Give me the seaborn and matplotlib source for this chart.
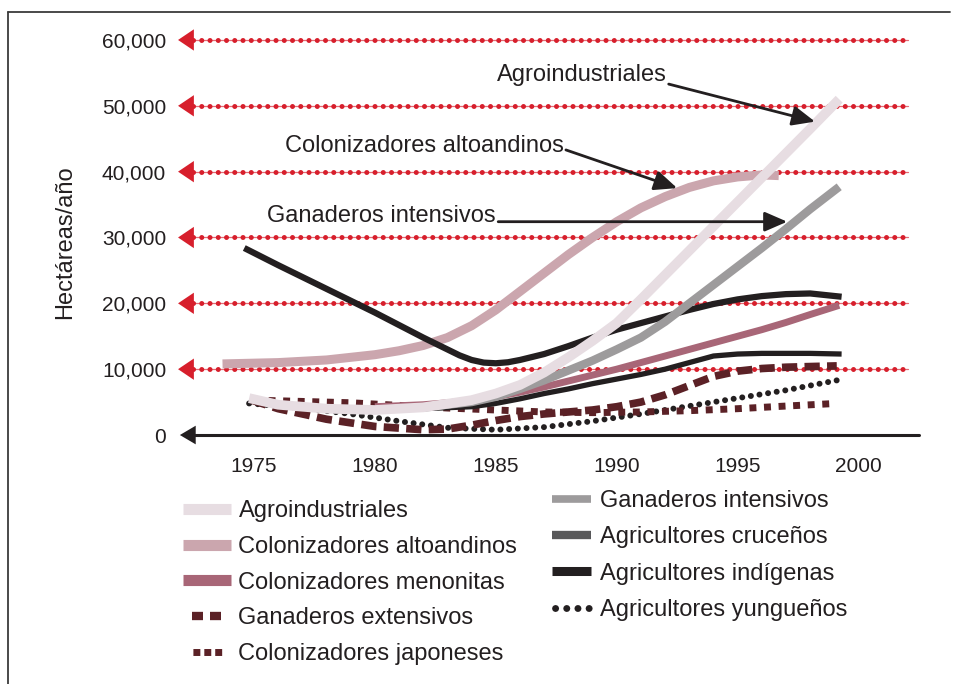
import numpy as np
import pandas as pd
import matplotlib
matplotlib.use("Agg")
import matplotlib.pyplot as plt
from matplotlib.lines import Line2D
import seaborn as sns

sns.set_theme(style="white")
plt.rcParams['font.family'] = ['Liberation Sans', 'DejaVu Sans']

# ---------------- data (hectáreas/año) ----------------
agro_years = [1974.8, 1976, 1978, 1980, 1982, 1984, 1985, 1986, 1987, 1988, 1989, 1990,
              1991, 1992, 1993, 1994, 1995, 1996, 1997, 1998, 1999.2]
agro_vals = [5600, 4600, 4000, 3800, 4200, 5300, 6300, 7600, 9500, 11800, 14300, 17000,
             20600, 24300, 28000, 31700, 35400, 39100, 42800, 46500, 51000]

alto_years = [1973.7, 1976, 1978, 1980, 1981, 1982, 1983, 1984, 1985, 1986, 1987, 1988,
              1989, 1990, 1991, 1992, 1993, 1994, 1995, 1996, 1996.7]
alto_vals = [10800, 11000, 11400, 12200, 12800, 13600, 14800, 16600, 19000, 21800, 24600,
             27400, 30000, 32400, 34500, 36200, 37600, 38600, 39200, 39500, 39400]

meno_years = [1980, 1982, 1984, 1985, 1986, 1987, 1988, 1989, 1990, 1991, 1992, 1993,
              1994, 1995, 1996, 1997, 1998, 1999.2]
meno_vals = [4300, 4600, 5200, 5800, 6500, 7300, 8200, 9100, 10000, 11000, 12000, 13000,
             14000, 15000, 16000, 17100, 18300, 19700]

ext_years = [1974.9, 1976, 1978, 1980, 1982, 1983, 1984, 1985, 1986, 1987, 1988, 1989,
             1990, 1991, 1992, 1993, 1994, 1995, 1996, 1997, 1998, 1999.1]
ext_vals = [5300, 4000, 2400, 1300, 800, 900, 1500, 2200, 2800, 3200, 3500, 3800,
            4300, 5000, 6100, 7500, 8900, 9700, 10100, 10300, 10400, 10500]

jap_years = [1975, 1977, 1979, 1981, 1983, 1985, 1987, 1989, 1991, 1993, 1995, 1997, 1999.1]
jap_vals = [5300, 5100, 4900, 4500, 4100, 3800, 3500, 3400, 3500, 3700, 4000, 4400, 4800]

int_years = [1982, 1984, 1985, 1986, 1987, 1988, 1989, 1990, 1991, 1992, 1993, 1994,
             1995, 1996, 1997, 1998, 1999.2]
int_vals = [4200, 5000, 5800, 7000, 8300, 9800, 11300, 13000, 14800, 17200, 20000, 22800,
            25600, 28400, 31300, 34300, 37700]

cru_years = [1982, 1984, 1985, 1986, 1987, 1988, 1989, 1990, 1991, 1992, 1993, 1994,
             1995, 1996, 1997, 1998, 1999.3]
cru_vals = [4000, 4300, 4800, 5500, 6300, 7000, 7800, 8500, 9200, 10000, 11000, 12000,
            12300, 12400, 12400, 12400, 12300]

ind_years = [1974.6, 1976, 1978, 1980, 1982, 1983, 1983.5, 1984, 1984.5, 1985, 1985.5,
             1986, 1987, 1988, 1989, 1990, 1991, 1992, 1993, 1994, 1995, 1996, 1997,
             1998, 1999.3]
ind_vals = [28400, 25800, 22200, 18600, 14800, 13000, 12100, 11400, 11000, 10900, 11050,
            11400, 12300, 13500, 14800, 16000, 17000, 18000, 19000, 19900, 20600, 21100,
            21400, 21500, 21000]

yun_years = [1974.8, 1977, 1979, 1981, 1983, 1985, 1987, 1989, 1991, 1993, 1995, 1997, 1999.1]
yun_vals = [4800, 4100, 3200, 2100, 1100, 800, 1200, 2100, 3200, 4400, 5600, 6800, 8300]

x_ticks = [1975, 1980, 1985, 1990, 1995, 2000]
y_ticks = [0, 10000, 20000, 30000, 40000, 50000, 60000]
y_ticklabels = ["0", "10,000", "20,000", "30,000", "40,000", "50,000", "60,000"]

# ---------------- styles ----------------
RED = '#d71f2c'
series = [
    # name, years, vals, color, lw, dashes, cap, z
    ("Agricultores yungueños", yun_years, yun_vals, '#231f20', 4.3, (0.01, 1.45), 'round', 2.0),
    ("Colonizadores japoneses", jap_years, jap_vals, '#5b2126', 5.0, (1.0, 1.1), 'butt', 2.1),
    ("Ganaderos extensivos", ext_years, ext_vals, '#5b2126', 5.5, (2.0, 0.95), 'butt', 2.2),
    ("Colonizadores menonitas", meno_years, meno_vals, '#a86677', 5.0, None, 'butt', 2.3),
    ("Colonizadores altoandinos", alto_years, alto_vals, '#cba6ae', 6.5, None, 'butt', 2.4),
    ("Agricultores cruceños", cru_years, cru_vals, '#231f20', 3.8, None, 'butt', 2.5),
    ("Agricultores indígenas", ind_years, ind_vals, '#231f20', 4.5, None, 'butt', 2.5),
    ("Ganaderos intensivos", int_years, int_vals, '#9d9b9c', 6.0, None, 'butt', 2.6),
    ("Agroindustriales", agro_years, agro_vals, '#e7dde2', 7.0, None, 'butt', 2.7),
]

fig = plt.figure(figsize=(9.56, 6.84), dpi=100)
fig.patch.set_facecolor('white')
ax = fig.add_axes([0.1847, 0.364, 0.769, 0.592])
ax.set_facecolor('none')

XMIN, XMAX = 1971.8, 2002.2
ax.set_xlim(XMIN, XMAX)
ax.set_ylim(0, 61500)

# red dotted reference lines with left arrowheads
for v in y_ticks[1:]:
    ax.plot([0.018, 0.995], [v, v], color='#e46a74', lw=0.9,
            transform=ax.get_yaxis_transform(), clip_on=False, zorder=1)
    ax.plot([0.022, 0.995], [v, v], color=RED, lw=3.6, linestyle=(0, (0.01, 1.64)),
            dash_capstyle='round', transform=ax.get_yaxis_transform(), clip_on=False, zorder=1.1)
    ax.annotate('', xy=(0.002, v), xytext=(0.02, v),
                xycoords=ax.get_yaxis_transform(), textcoords=ax.get_yaxis_transform(),
                arrowprops=dict(arrowstyle='-|>,head_length=0.95,head_width=0.64',
                                color=RED, lw=0, shrinkA=0, shrinkB=0),
                annotation_clip=False, zorder=1.2)

# black zero axis line with arrowhead
ax.plot([0.01, 1.01], [0, 0], color='#231f20', lw=2.2,
        transform=ax.get_yaxis_transform(), clip_on=False, zorder=5)
ax.annotate('', xy=(0.0045, 0), xytext=(0.025, 0),
            xycoords=ax.get_yaxis_transform(), textcoords=ax.get_yaxis_transform(),
            arrowprops=dict(arrowstyle='-|>,head_length=0.95,head_width=0.56',
                            color='#231f20', lw=0, shrinkA=0, shrinkB=0),
            annotation_clip=False, zorder=5)

# the series
for name, yrs, vals, col, lw, dsh, cap, z in series:
    df = pd.DataFrame({"year": yrs, "value": vals})
    kw = {}
    if dsh is not None:
        kw['dashes'] = dsh
        kw['dash_capstyle'] = cap
    else:
        kw['solid_capstyle'] = 'butt'
    sns.lineplot(data=df, x="year", y="value", ax=ax, color=col, linewidth=lw,
                 sort=False, estimator=None, zorder=z, clip_on=False, **kw)

# annotations
TXT = '#231f20'
FS = 17
ann = [
    ("Agroindustriales", (1988.55, 54700), (1992.15, 53300), (1998.2, 47600)),
    ("Colonizadores altoandinos", (1982.05, 43900), (1987.9, 43300), (1992.5, 37500)),
    ("Ganaderos intensivos", (1980.26, 33300), (1985.1, 32400), (1997.05, 32400)),
]
for label, tpos, a0, a1 in ann:
    ax.text(tpos[0], tpos[1], label, ha='center', va='center', fontsize=FS,
            color=TXT, zorder=6)
    ax.annotate('', xy=a1, xytext=a0,
                arrowprops=dict(arrowstyle='-|>,head_length=1.15,head_width=0.5',
                                color='#231f20', lw=2.0, shrinkA=0, shrinkB=0),
                zorder=6)

# ticks
ax.set_xticks(x_ticks)
ax.set_xticklabels([str(t) for t in x_ticks], fontsize=15, color=TXT)
ax.set_yticks(y_ticks)
ax.set_yticklabels(y_ticklabels, fontsize=15, color=TXT)
ax.tick_params(axis='x', length=0, pad=16)
ax.tick_params(axis='y', length=0, pad=7.5)
for s in ax.spines.values():
    s.set_visible(False)
ax.grid(False)
ax.set_xlabel('')
ax.set_ylabel('')
fig.text(65 / 956, 1 - 242 / 684, "Hectáreas/año", rotation=90, ha='center', va='center',
         fontsize=FS, color=TXT)

# legends
legend_style = {
    "Agroindustriales": dict(color='#e7dde2', lw=8, solid_capstyle='butt'),
    "Colonizadores altoandinos": dict(color='#cba6ae', lw=8, solid_capstyle='butt'),
    "Colonizadores menonitas": dict(color='#a86677', lw=8, solid_capstyle='butt'),
    "Ganaderos extensivos": dict(color='#5b2126', lw=6,
                                 linestyle=(4.68, (1.32, 0.84, 1.32, 2.28)),
                                 dash_capstyle='butt'),
    "Colonizadores japoneses": dict(color='#5b2126', lw=5,
                                    linestyle=(5.43, (1, 0.571, 1, 0.571, 1, 2.714)),
                                    dash_capstyle='butt'),
    "Ganaderos intensivos": dict(color='#9d9b9c', lw=5.5, solid_capstyle='butt'),
    "Agricultores cruceños": dict(color='#58585a', lw=6, solid_capstyle='butt'),
    "Agricultores indígenas": dict(color='#231f20', lw=6.5, solid_capstyle='butt'),
    "Agricultores yungueños": dict(color='#231f20', lw=5,
                                   linestyle=(1.17, (0.01, 1.6)), dash_capstyle='round'),
}

left_names = ["Agroindustriales", "Colonizadores altoandinos", "Colonizadores menonitas",
              "Ganaderos extensivos", "Colonizadores japoneses"]
right_names = ["Ganaderos intensivos", "Agricultores cruceños", "Agricultores indígenas",
               "Agricultores yungueños"]

leg1 = fig.legend(handles=[Line2D([], [], **legend_style[n]) for n in left_names],
                  labels=left_names,
                  loc='upper left', bbox_to_anchor=(183 / 956, 1 - 500 / 684),
                  frameon=False, fontsize=FS, handlelength=2.05, handletextpad=0.3,
                  labelspacing=0.585, borderpad=0, borderaxespad=0, labelcolor=TXT)
leg2 = fig.legend(handles=[Line2D([], [], **legend_style[n]) for n in right_names],
                  labels=right_names,
                  loc='upper left', bbox_to_anchor=(552 / 956, 1 - 490 / 684),
                  frameon=False, fontsize=FS, handlelength=1.65, handletextpad=0.37,
                  labelspacing=0.605, borderpad=0, borderaxespad=0, labelcolor=TXT)

# outer frame (left and top edges)
fig.add_artist(Line2D([8 / 956, 8 / 956], [0, 1 - 12 / 684], color='#3a3a3a', lw=1.3,
                      transform=fig.transFigure))
fig.add_artist(Line2D([8 / 956, 950 / 956], [1 - 12 / 684, 1 - 12 / 684], color='#3a3a3a',
                      lw=1.3, transform=fig.transFigure))

fig.savefig("out.png", dpi=100, facecolor='white')
